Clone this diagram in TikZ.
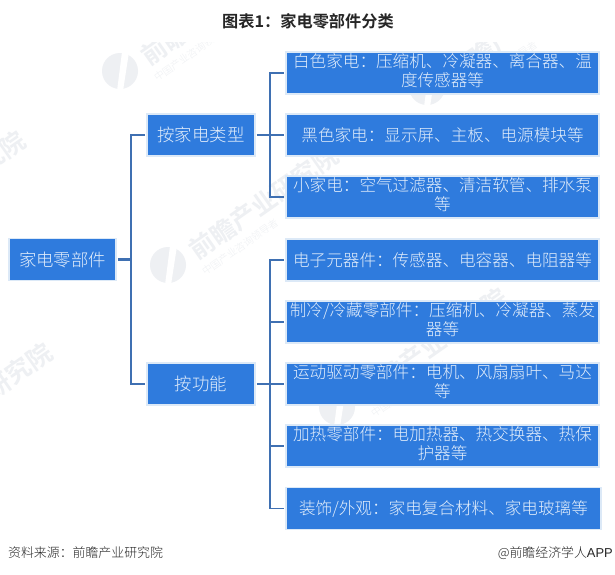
\documentclass[tikz,border=0pt]{standalone}
\usepackage{fontspec}
\setmainfont{Noto Sans CJK SC}[UprightFont=* Light,BoldFont=* Bold]
\newfontfamily\latinfont{Liberation Sans}
\definecolor{boxfill}{HTML}{2F7BDD}
\definecolor{boxedge}{HTML}{DCE9F7}
\definecolor{busline}{HTML}{3F70B2}
\definecolor{boxtext}{HTML}{E3EEFB}
\definecolor{wmark}{HTML}{EEF0F3}
\tikzset{
  card/.style={fill=boxfill,draw=boxedge,line width=1.5pt,inner sep=0pt,align=center,text=boxtext,
    font=\fontsize{16.6}{18.8}\selectfont,minimum height=42pt},
  rootcard/.style={card,minimum width=107pt,font=\fontsize{17.4}{19}\selectfont},
  midcard/.style={card,minimum width=108pt,font=\fontsize{17.4}{19}\selectfont},
  leafcard/.style={card,minimum width=313pt},
  bus/.style={draw=busline,line width=1.8pt},
  stub/.style={draw=busline,line width=2.4pt},
  wmtext/.style={text=wmark,font=\fontsize{25}{25}\bfseries\selectfont,rotate=35,anchor=west,inner sep=0pt},
  wmsub/.style={text=wmark,font=\fontsize{10}{10}\selectfont,rotate=35,anchor=west,inner sep=0pt},
}
\newcommand{\qzmark}[3]{%
  \begin{scope}[shift={(#1,#2)}]
    \fill[wmark] (0,0) circle (18);
    \fill[white] (2,-19) -- (9,-19) -- (3,20) -- (-3,20) -- cycle;
    \node[wmtext] (#3) at (24,-12) {前瞻产业研究院};
    \node[wmsub] (#3s) at (35,8) {中国产业咨询领导者};
  \end{scope}}
\begin{document}
\begin{tikzpicture}[x=1pt,y=-1pt]
\useasboundingbox (0,0) rectangle (615,574);
\fill[white] (0,0) rectangle (615,574);
\begin{scope}
  \clip (0,42) rectangle (615,535);
  \qzmark{120}{71}{wa}
  \qzmark{168}{265}{wb}
  \qzmark{337}{407}{wc}
  \qzmark{427}{87}{wd}
  \qzmark{-118}{462}{we}
  \qzmark{-145}{250}{wf}
\end{scope}
\node[font=\fontsize{16.2}{16}\bfseries\selectfont,text=black!85] (title) at (308,21) {图表1：家电零部件分类};
\node[rootcard] (root) at (62.5,259.5) {家电零部件};
\node[midcard] (typeA) at (201,135) {按家电类型};
\node[midcard] (typeB) at (201,384) {按功能};
\node[leafcard] (a1) at (442.5,73) {\raisebox{1.5pt}{\begin{tabular}{@{}c@{}}白色家电：压缩机、冷凝器、离合器、温\\[-0.2pt]度传感器等\end{tabular}}};
\node[leafcard] (a2) at (442.5,135) {黑色家电：显示屏、主板、电源模块等};
\node[leafcard] (a3) at (442.5,197) {\raisebox{1.5pt}{\begin{tabular}{@{}c@{}}小家电：空气过滤器、清洁软管、排水泵\\[-0.2pt]等\end{tabular}}};
\node[leafcard] (b1) at (442.5,260) {电子元器件：传感器、电容器、电阻器等};
\node[leafcard] (b2) at (442.5,322) {\raisebox{1.5pt}{\begin{tabular}{@{}c@{}}制冷/冷藏零部件：压缩机、冷凝器、蒸发\\[-0.2pt]器等\end{tabular}}};
\node[leafcard] (b3) at (442.5,384) {\raisebox{1.5pt}{\begin{tabular}{@{}c@{}}运动驱动零部件：电机、风扇扇叶、马达\\[-0.2pt]等\end{tabular}}};
\node[leafcard] (b4) at (442.5,446) {\raisebox{1.5pt}{\begin{tabular}{@{}c@{}}加热零部件：电加热器、热交换器、热保\\[-0.2pt]护器等\end{tabular}}};
\node[leafcard,minimum width=315pt] (b5) at (443.5,508.5) {装饰/外观：家电复合材料、家电玻璃等};
\coordinate (rootjoin) at (131,259.5);
\coordinate (ajoin) at (270,135);
\coordinate (bjoin) at (270,384);
\draw[stub,shorten <=1pt] (root.east) -- (rootjoin);
\draw[stub,shorten <=1pt] (typeA.east) -- (ajoin);
\draw[stub,shorten <=1pt] (typeB.east) -- (bjoin);
\draw[bus,shorten >=1pt] (rootjoin) |- (typeA.west);
\draw[bus,shorten >=1pt] (rootjoin) |- (typeB.west);
\foreach \leaf in {a1,a2,a3}{\draw[bus,shorten >=1pt] (ajoin) |- (\leaf.west);}
\foreach \leaf in {b1,b2,b3,b4,b5}{\draw[bus,shorten >=1pt] (bjoin) |- (\leaf.west);}
\node[anchor=west,inner sep=0pt,font=\fontsize{12.9}{14}\selectfont,text=black!85] (src) at (8,553) {资料来源：前瞻产业研究院};
\node[anchor=east,inner sep=0pt,font=\fontsize{12.9}{14}\selectfont,text=black!85] (brand) at (613,553) {@前瞻经济学人{\latinfont APP}};
\end{tikzpicture}
\end{document}
